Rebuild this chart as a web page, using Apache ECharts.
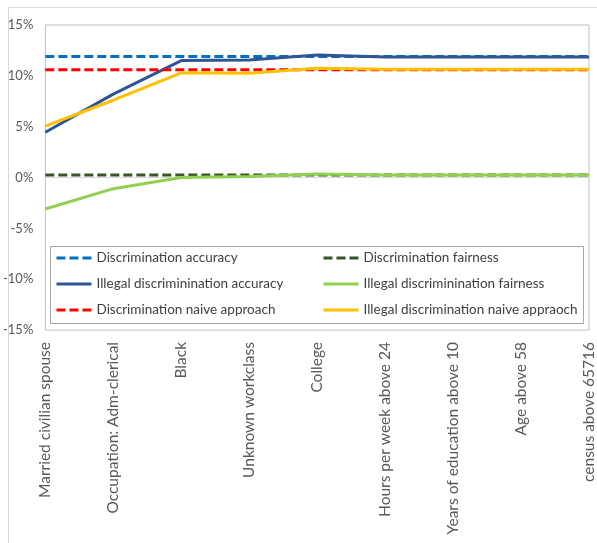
<!DOCTYPE html>
<html>
<head>
<meta charset="utf-8">
<script src="https://cdn.jsdelivr.net/npm/echarts@6/dist/echarts.min.js"></script>
<style>
  html, body { margin: 0; padding: 0; background: #fff; }
  #chart { width: 597px; height: 543px; }
</style>
</head>
<body>
<div id="chart"></div>
<script>
// Categories along the x axis
const categories = [
  'Married civilian spouse',
  'Occupation: Adm-clerical',
  'Black',
  'Unknown workclass',
  'College',
  'Hours per week above 24',
  'Years of education above 10',
  'Age above 58',
  'census above 65716'
];

// Series values (fractions; axis shows percent)
const discAccuracy      = [0.119, 0.119, 0.119, 0.119, 0.119, 0.119, 0.119, 0.119, 0.119];
const discFairness      = [0.0025, 0.0025, 0.0025, 0.0025, 0.0025, 0.0025, 0.0025, 0.0025, 0.0025];
const illegalAccuracy   = [0.0445, 0.082, 0.115, 0.1155, 0.1205, 0.1185, 0.1185, 0.1185, 0.1185];
const illegalFairness   = [-0.031, -0.011, 0.0, 0.001, 0.0035, 0.0025, 0.0025, 0.0025, 0.0025];
const discNaive         = [0.106, 0.106, 0.106, 0.106, 0.106, 0.106, 0.106, 0.106, 0.106];
const illegalNaive      = [0.0505, 0.076, 0.103, 0.1025, 0.1075, 0.1065, 0.1065, 0.1065, 0.1065];

// Y axis ticks
const yMin = -0.15, yMax = 0.15, yStep = 0.05;

const FONT = 'Lato';
const TEXT = '#595959';

function line(name, data, color, dashed) {
  return {
    name: name,
    type: 'line',
    data: data,
    symbol: 'none',
    smooth: false,
    lineStyle: { color: color, width: 3, type: dashed ? [9, 4] : 'solid', cap: 'butt' },
    itemStyle: { color: color },
    emphasis: { disabled: true },
    animation: false
  };
}

const series = [
  line('Discrimination accuracy', discAccuracy, '#0070C0', true),
  line('Discrimination fairness', discFairness, '#375623', true),
  line('Illegal discriminination accuracy', illegalAccuracy, '#2F5597', false),
  line('Illegal discriminination fairness', illegalFairness, '#92D050', false),
  line('Discrimination naive approach', discNaive, '#FF0000', true),
  line('Illegal discrimination naive appraoch', illegalNaive, '#FFC000', false)
];

// zero reference line
series[0].markLine = {
  silent: true,
  symbol: 'none',
  label: { show: false },
  lineStyle: { color: '#d9d9d9', width: 1, type: 'solid' },
  data: [{ yAxis: 0 }],
  z: 1
};

const legendCommon = {
  orient: 'vertical',
  top: 251,
  padding: 0,
  itemWidth: 35,
  itemHeight: 14,
  itemGap: 12,
  itemStyle: { opacity: 0 },
  lineStyle: { width: 3 },
  textStyle: { fontFamily: FONT, fontSize: 13.5, color: '#404040' },
  selectedMode: false
};

const chart = echarts.init(document.getElementById('chart'), null, { renderer: 'canvas' });
chart.setOption({
  backgroundColor: '#fff',
  animation: false,
  grid: {
    left: 45, top: 25, right: 4, bottom: 213,
    show: true, borderColor: '#bfbfbf', borderWidth: 1, backgroundColor: 'transparent'
  },
  xAxis: {
    type: 'category',
    data: categories,
    boundaryGap: false,
    axisLine: { show: false, onZero: false },
    axisTick: { show: false },
    axisLabel: {
      rotate: 90, interval: 0, margin: 12,
      color: TEXT, fontFamily: FONT, fontSize: 15.5
    },
    splitLine: { show: false }
  },
  yAxis: {
    type: 'value',
    min: yMin, max: yMax, interval: yStep,
    axisLine: { show: false },
    axisTick: { show: false },
    splitLine: { show: false },
    axisLabel: {
      margin: 12, color: TEXT, fontFamily: FONT, fontSize: 13,
      formatter: v => Math.round(v * 100) + '%'
    }
  },
  legend: [
    Object.assign({}, legendCommon, {
      left: 55,
      data: ['Discrimination accuracy', 'Illegal discriminination accuracy', 'Discrimination naive approach']
    }),
    Object.assign({}, legendCommon, {
      left: 322,
      data: ['Discrimination fairness', 'Illegal discriminination fairness', 'Illegal discrimination naive appraoch']
    })
  ],
  graphic: [
    { type: 'rect', left: 6, top: 5, shape: { width: 620, height: 600 },
      style: { fill: 'none', stroke: '#d9d9d9', lineWidth: 1 }, z: 0, silent: true },
    { type: 'rect', left: 50, top: 246, shape: { width: 533, height: 77 },
      style: { fill: '#fff', stroke: '#a6a6a6', lineWidth: 1 }, z: 2, silent: true }
  ],
  series: series
});
</script>
</body>
</html>
